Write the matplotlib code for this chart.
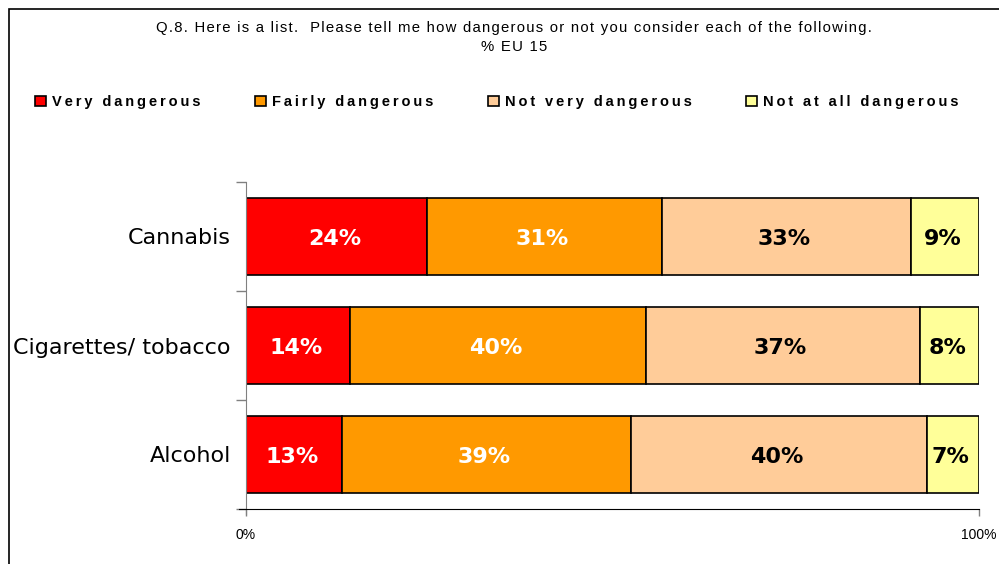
import matplotlib.pyplot as plt
from matplotlib.patches import Rectangle
import numpy as np

# Data (% EU 15)
categories = ['Cannabis', 'Cigarettes/ tobacco', 'Alcohol']
series_names = ['Very dangerous', 'Fairly dangerous', 'Not very dangerous', 'Not at all dangerous']
very = [24, 14, 13]
fairly = [31, 40, 39]
not_very = [33, 37, 40]
not_at_all = [9, 8, 7]
colors = ['#FF0000', '#FF9900', '#FFCC99', '#FFFF99']
label_colors = ['white', 'white', 'black', 'black']

values = np.array([very, fairly, not_very, not_at_all], dtype=float)
# 100% stacked: each bar is normalised to its own total
shares = values / values.sum(axis=0)


def spaced(s, sep='\u2009'):
    # wide letter spacing like the original export
    return sep.join(s)


fig = plt.figure(figsize=(9.99, 5.64), dpi=100)
ax = fig.add_axes([246/999, 1 - 509/564, 733/999, 327/564])

y = np.arange(len(categories))
left = np.zeros(len(categories))
handles = []
for i, name in enumerate(series_names):
    bars = ax.barh(y, shares[i], left=left, height=0.71, color=colors[i],
                   edgecolor='black', linewidth=1.2, label=name)
    handles.append(bars)
    for j in range(len(categories)):
        ax.text(left[j] + shares[i][j] / 2 - 0.003, y[j] + 0.02, '%d%%' % values[i][j],
                ha='center', va='center', color=label_colors[i],
                fontsize=16, fontweight='bold', family='DejaVu Sans')
    left += shares[i]

ax.set_xlim(0, 1)
ax.set_ylim(len(categories) - 0.5, -0.5)

# category labels
ax.set_yticks(y)
ax.set_yticklabels(categories, fontsize=16, family='DejaVu Sans')
ax.tick_params(axis='y', which='major', length=0, pad=11)
ax.set_yticks(np.arange(len(categories) + 1) - 0.5, minor=True)
ax.tick_params(axis='y', which='minor', length=7, color='#808080', width=1)

ax.set_xticks([0, 1])
ax.set_xticklabels(['0%', '100%'], fontsize=10, family='Liberation Sans')
ax.tick_params(axis='x', length=5, color='#808080', width=1, pad=9)

for s in ['top', 'right']:
    ax.spines[s].set_visible(False)
ax.spines['left'].set_color('#808080')
ax.spines['left'].set_bounds(-0.5, 2.55)
ax.spines['bottom'].set_color('black')
ax.spines['bottom'].set_bounds(-0.009, 1)

# title
title_font = ['Liberation Sans', 'DejaVu Sans']
fig.text(514/999, 1 - 28/564,
         spaced('Q.8. Here is a list.  Please tell me how dangerous or not you consider each of the following.', '\u200a'),
         ha='center', va='center', fontsize=10.7, family=title_font)
fig.text(514/999, 1 - 47/564, spaced('% EU 15', '\u200a'), ha='center', va='center',
         fontsize=10.7, family=title_font)

# legend
leg = fig.legend(handles=handles, labels=[spaced(n) for n in series_names], ncol=4,
                 loc='center left', bbox_to_anchor=(22/999, 1 - 102/564),
                 frameon=False, handlelength=0.75, handleheight=0.75,
                 handletextpad=0.4, columnspacing=3.75,
                 prop={'family': ['Liberation Sans', 'DejaVu Sans'], 'weight': 'bold', 'size': 10.5})

# outer frame (top and left edges visible)
fig.patches.append(Rectangle((9/999, -0.1), 1.1, 1.1 - 9/564, transform=fig.transFigure,
                             fill=False, edgecolor='black', linewidth=1.2))

fig.savefig('out.png', dpi=100)
